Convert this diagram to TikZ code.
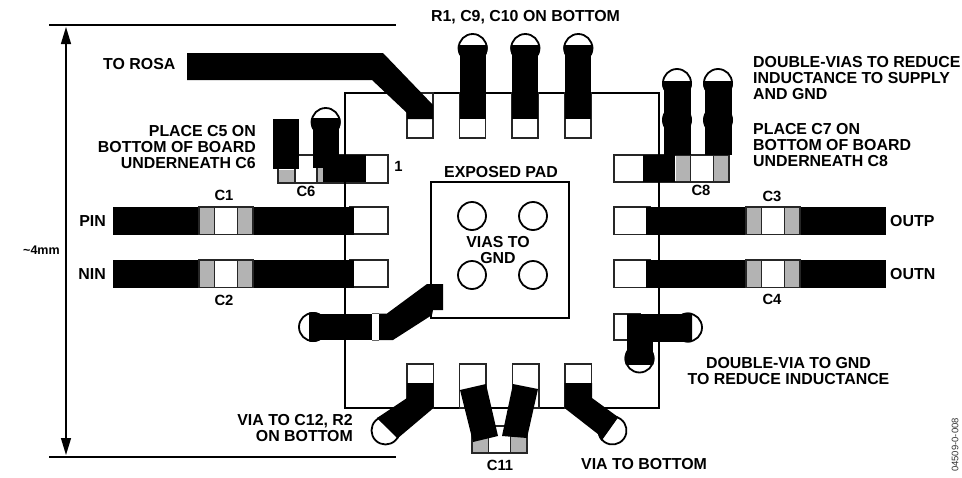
\documentclass[tikz,border=0pt]{standalone}
\usepackage{fontspec}
\setmainfont{Liberation Sans}
\usetikzlibrary{arrows.meta}
\definecolor{capgray}{HTML}{B3B3B3}
\newcommand{\myvia}[4]{%
  \begin{scope}[shift={(#1,#2)},rotate=#3]
    \draw[viaring] (0,0) circle[radius=14pt];
    \begin{scope}
      \clip (-20,#4) rectangle (20,20);
      \fill[black] (0,0) circle[radius=15pt];
    \end{scope}
  \end{scope}}
\newcommand{\mycap}[3]{% x-left, y-top, y-bottom
  \draw[padline,fill=white] (#1,#2) rectangle ++(54,#3-#2);
  \fill[capgray] (#1+1,#2+1) rectangle (#1+15,#3-1);
  \fill[capgray] (#1+39,#2+1) rectangle (#1+53,#3-1);
  \draw[padline] (#1+15.5,#2) -- (#1+15.5,#3) (#1+38.5,#2) -- (#1+38.5,#3);}
\tikzset{
  viaring/.style={draw=black,line width=1.8pt,fill=white},
  padline/.style={draw=black!85,line width=1.2pt},
  padbox/.style={padline,fill=white},
  trace/.style={fill=black},
  lbl/.style={font=\fontsize{15.9}{16}\selectfont\bfseries,inner sep=0pt,text=black},
  clbl/.style={font=\fontsize{14.8}{16}\selectfont\bfseries,inner sep=0pt,text=black},
  boardline/.style={draw=black,line width=2pt},
  dimline/.style={draw=black,line width=1.3pt},
}
\begin{document}
\begin{tikzpicture}[x=1pt,y=-1pt]
\useasboundingbox (0,0) rectangle (962,477);
% dimension
\draw[dimline] (49,25) -- (396,25);
\draw[dimline] (49,457) -- (396,457);
\coordinate (dimtop) at (66,27);
\coordinate (dimbot) at (66,455);
\draw[dimline,{Triangle[length=17pt,width=10pt]}-{Triangle[length=17pt,width=10pt]}] (dimtop) -- (dimbot);
% board outline
\draw[boardline] (344.5,93) rectangle (659,408);
% exposed pad
\draw[boardline,line cap=rect] (431,182) rectangle (569,318);
\foreach \x/\y in {472/216,533/216,472/275,533/275}{
  \draw[draw=black,line width=1.8pt] (\x,\y) circle[radius=14pt];
}
% top pads
\foreach \x in {407,459.5,512,565}{
  \draw[padbox] (\x,93) rectangle ++(26,45);
}
% ROSA trace
\fill[trace] (187,53) -- (383,53) -- (433,105) -- (433,119) -- (407,119) -- (407,113) -- (372,80) -- (187,80) -- cycle;
% top vias
\foreach \x in {472.7,525.3,578.3}{
  \myvia{\x}{48}{0}{-3}
  \fill[trace] (\x-13,45) rectangle (\x+13,119);
}
% pad 1 and C6
\draw[padbox] (278,183) rectangle (388,155);
\draw[padbox] (350,155) rectangle (388,183);
\draw[boardline] (344.5,140) -- (344.5,200);
\fill[capgray] (279,170) rectangle (294,182);
\fill[capgray] (318,168) rectangle (323,182);
\draw[padline] (295,155) -- (295,183) (317,155) -- (317,183);
\fill[trace] (272.5,119) rectangle (298.5,169);
\myvia{325.7}{122}{0}{-4}
\fill[trace] (313,118) rectangle (339,168);
\fill[trace] (323,155) rectangle (366,182);
% PIN, NIN
\foreach \yt in {207,260}{
  \draw[padbox] (350,\yt) rectangle (388,\yt+27);
  \fill[trace] (113,\yt) rectangle (354,\yt+27.5);
  \mycap{199}{\yt}{\yt+27.5}
}
% right top pad and C8
\draw[padbox] (614,155) rectangle (729,182);
\fill[capgray] (676,156) rectangle (690,181);
\fill[capgray] (714,156) rectangle (728,181);
\draw[padline] (690.5,155) -- (690.5,182) (713.5,155) -- (713.5,182);
\draw[boardline] (659,140) -- (659,190);
\fill[trace] (643,155) rectangle (675,182);
\foreach \x in {677,718}{
  \myvia{\x}{83}{0}{-2}
  \fill[trace] (\x,120) circle[radius=15pt];
  \fill[trace] (\x-13.5,81) rectangle (\x+13.5,155);
}
% OUTP, OUTN
\foreach \yt in {207,260}{
  \draw[padbox] (614,\yt) rectangle (650,\yt+27.5);
  \fill[trace] (646,\yt) rectangle (886,\yt+27.5);
  \mycap{746}{\yt}{\yt+27.5}
}
% left lower via
\myvia{313}{327}{90}{-4}
\fill[trace] (309,313.5) rectangle (372,340);
\draw[draw=black!60,line width=.8pt] (372,313.5) -- (379,313.5) (372,340) -- (379,340);
\fill[trace] (379,313.5) -- (387,313.5) -- (427,284) -- (443,284) -- (443,310) -- (433,310) -- (432,315) -- (393,340) -- (379,340) -- cycle;
% right lower pad and double via
\draw[padbox] (614,314) rectangle (640,340);
\myvia{688}{327.5}{-90}{-4}
\myvia{639.5}{358.5}{180}{-6}
\fill[trace] (627,313.5) rectangle (692,341.5);
\fill[trace] (627,313.5) rectangle (653,365);
% bottom pads
\foreach \x in {407,459.5,512.5,565}{
  \draw[padbox] (\x,364) rectangle ++(26.5,44);
}
% bottom left via
\myvia{385.5}{430.5}{135}{3}
\fill[trace] (407,383) -- (433.5,383) -- (433.5,408) -- (398,438) -- (377,418) -- (407,398) -- cycle;
% bottom right via
\myvia{612.5}{430.5}{-125.5}{3}
\fill[trace] (564.5,383) -- (592,383) -- (592,398) -- (618,417) -- (603,438) -- (564.5,408) -- cycle;
% C11
\draw[padbox] (472,426) rectangle (527,453);
\fill[capgray] (473,427) rectangle (488,452);
\fill[capgray] (511,427) rectangle (526,452);
\draw[padline] (488.5,430) -- (488.5,453) (510.5,430) -- (510.5,453);
\fill[trace] (460,390) -- (486,384) -- (498,436) -- (473,442) -- cycle;
\fill[trace] (513,384) -- (538,389) -- (527,438) -- (502,436) -- cycle;
% labels
\node[lbl,anchor=center] (r1) at (525.5,17.5) {R1, C9, C10 ON BOTTOM};
\node[lbl,anchor=west] (rosa) at (103,64) {TO ROSA};
\node[lbl,anchor=east,align=right] (c5) at (256,147) {PLACE C5 ON\\BOTTOM OF BOARD\\UNDERNEATH C6};
\node[lbl,anchor=west,align=left] (dv) at (753,78.5) {DOUBLE-VIAS TO REDUCE\\INDUCTANCE TO SUPPLY\\AND GND};
\node[lbl,anchor=west,align=left] (c7) at (753,145) {PLACE C7 ON\\BOTTOM OF BOARD\\UNDERNEATH C8};
\node[clbl] (one) at (398.5,166) {1};
\node[lbl] (ep) at (501,172) {EXPOSED PAD};
\node[lbl,align=center] (vg) at (498,250.5) {VIAS TO\\GND};
\node[clbl] (c1) at (224,195) {C1};
\node[clbl] (c2) at (224,300) {C2};
\node[clbl] (c3) at (772,196) {C3};
\node[clbl] (c4) at (772,299) {C4};
\node[clbl] (c6) at (306,191) {C6};
\node[clbl] (c8) at (701,190) {C8};
\node[clbl] (c11) at (500,465) {C11};
\node[lbl,anchor=east] (pin) at (106,221) {PIN};
\node[lbl,anchor=east] (nin) at (106,274) {NIN};
\node[lbl,anchor=west] (outp) at (890,221) {OUTP};
\node[lbl,anchor=west] (outn) at (890,274) {OUTN};
\node[font=\fontsize{12.5}{14}\selectfont\bfseries,inner sep=0pt,anchor=west] (four) at (23,250) {\textasciitilde 4mm};
\node[lbl,align=center] (dg) at (788.5,371) {DOUBLE-VIA TO GND\\TO REDUCE INDUCTANCE};
\node[lbl,anchor=east,align=right] (c12) at (353,428) {VIA TO C12, R2\\ON BOTTOM};
\node[lbl,anchor=west] (vb) at (581,464) {VIA TO BOTTOM};
\node[font=\fontsize{9.5}{10}\selectfont,inner sep=0pt,rotate=90,text=black!80] (code) at (955,445) {04509-0-008};
\end{tikzpicture}
\end{document}
